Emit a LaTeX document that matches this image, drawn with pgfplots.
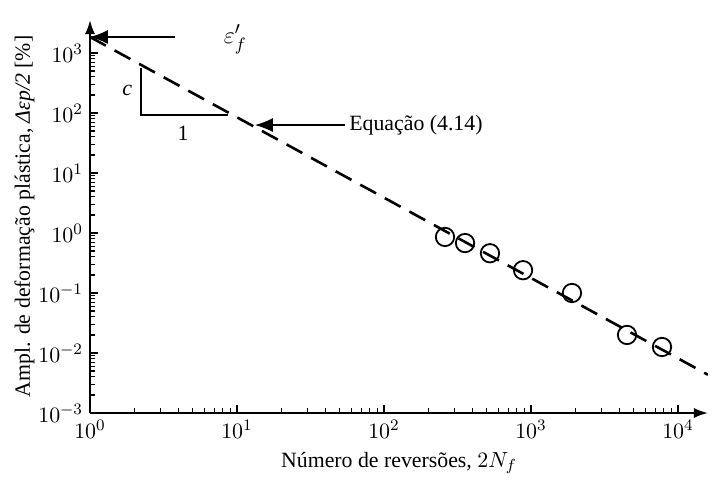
\documentclass[border=0pt]{standalone}
\usepackage{pgfplots}
\pgfplotsset{compat=1.18}
\usepackage{fontspec}
\setmainfont{Liberation Serif}
\usetikzlibrary{calc,arrows.meta}

% data
\pgfplotstableread{
N      ep
260    0.86
356    0.68
526    0.46
883    0.24
1900   0.10
4500   0.020
7785   0.0126
}\tests

\begin{document}
\begin{tikzpicture}
\begin{axis}[
    name=ax,
    scale only axis,
    width=309pt, height=196.5pt,
    xmode=log, ymode=log,
    xmin=1, xmax=16000,
    ymin=1e-3, ymax=3548,
    axis lines=left,
    axis line style={line width=1pt, -{Latex[length=7pt,width=5pt]}},
    tick align=inside,
    major tick length=4pt, minor tick length=2.5pt,
    every tick/.style={black, line width=0.6pt},
    xtick={1,10,100,1000,10000},
    ytick={1e-3,1e-2,1e-1,1,10,100,1000},
    font=\fontsize{10.9}{13}\selectfont,
    ticklabel style={font=\fontsize{10.9}{13}\selectfont},
    xlabel={Número de reversões, $2N_f$},
    ylabel={Ampl. de deformação plástica, \textit{Δεp/2} [\%]},
    ylabel style={yshift=-5pt},
    clip=true,
]
\coordinate (O) at (rel axis cs:0,0);
% fitted line, Eq. (4.14)
\addplot[black, line width=1.3pt, dash pattern=on 9pt off 5pt] coordinates {(1,1850) (16000,0.00434)};
% slope triangle
\addplot[black, line width=0.7pt] coordinates {(2.22,562) (2.22,92.6) (8.7,92.6)};
% measured points
\addplot[only marks, mark=o, mark size=4.6pt, mark options={line width=0.9pt, fill=white, draw=black}] table[x=N, y=ep] {\tests};
\node[font=\itshape\fontsize{11}{13}\selectfont] at (axis cs:1.79,242) {c};
\node[font=\fontsize{10.9}{13}\selectfont] at (axis cs:4.29,46) {1};
\draw[line width=0.6pt, -{Latex[length=9pt,width=7pt]}] (axis cs:3.79,1850) -- (axis cs:1,1850);
\node[anchor=west, font=\fontsize{13}{15}\selectfont] at (axis cs:7.3,1700) {$\varepsilon'_f$};
\draw[line width=0.6pt, -{Latex[length=9pt,width=7pt]}] (axis cs:54.3,63) -- (axis cs:13.25,63);
\node[anchor=west, font=\fontsize{10.9}{13}\selectfont, inner sep=1pt] at (axis cs:56,63) {Equação (4.14)};
\end{axis}
\pgfresetboundingbox
\path[use as bounding box] ($(O)+(-45pt,-37.5pt)$) rectangle ++(356pt,244pt);
\end{tikzpicture}
\end{document}
